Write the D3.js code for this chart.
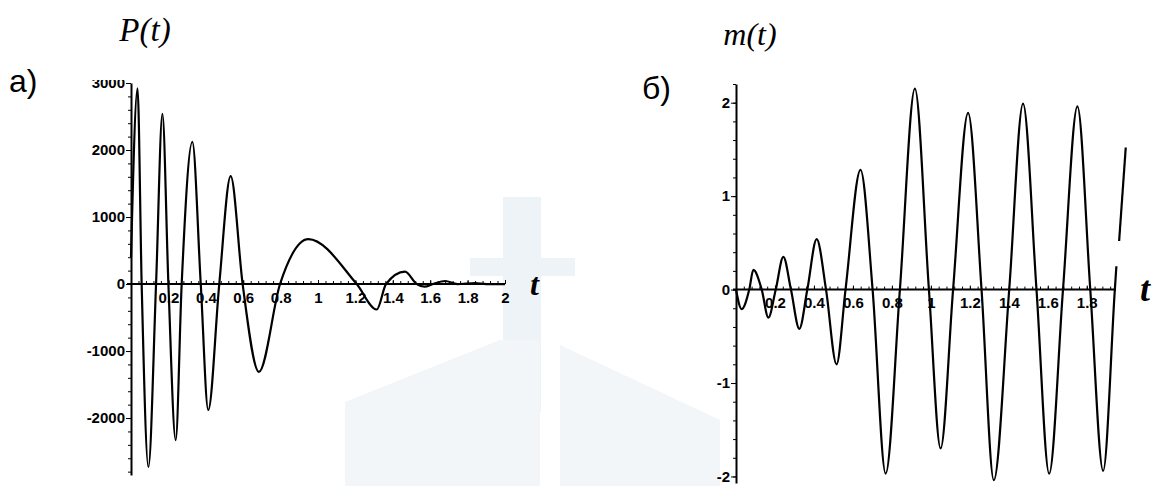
<!DOCTYPE html>
<html>
<head>
<meta charset="utf-8">
<script src="https://cdn.jsdelivr.net/npm/d3@7"></script>
<style>
  body { margin: 0; background: #fff; }
  .axis path, .axis line { stroke: #000; }
  .curve { fill: none; stroke: #000; stroke-width: 2.2; }
</style>
</head>
<body>
<div id="chart"></div>
<script>
// ---- data ----
// a) P(t): extrema and zero crossings
var pT   = [0, 0.035, 0.057, 0.093, 0.134, 0.168, 0.200, 0.239, 0.271, 0.328, 0.373, 0.413, 0.472, 0.533, 0.597, 0.684, 0.797, 0.948, 1.207, 1.314, 1.364, 1.465, 1.528, 1.570, 1.615, 1.680, 1.745, 1.840, 1.900, 2.0];
var pVal = [400, 2920, 0, -2730, 0, 2540, 0, -2330, 0, 2120, 0, -1880, 0, 1610, 0, -1310, 0, 670, 0, -380, 0, 185, 0, -40, 0, 45, 0, 15, 0, 0];
var pYTicks = [-2000, -1000, 0, 1000, 2000, 3000];
var pXTicks = [0.2, 0.4, 0.6, 0.8, 1, 1.2, 1.4, 1.6, 1.8, 2];

// б) m(t): extrema and zero crossings
var mT   = [0, 0.029, 0.068, 0.089, 0.132, 0.166, 0.204, 0.243, 0.282, 0.325, 0.366, 0.414, 0.462, 0.516, 0.562, 0.639, 0.701, 0.768, 0.841, 0.918, 0.990, 1.050, 1.114, 1.191, 1.260, 1.323, 1.402, 1.473, 1.542, 1.607, 1.678, 1.752, 1.818, 1.884, 1.944, 1.952];
var mVal = [0, -0.21, 0, 0.21, 0, -0.30, 0, 0.35, 0, -0.42, 0, 0.54, 0, -0.80, 0, 1.28, 0, -1.97, 0, 2.15, 0, -1.70, 0, 1.89, 0, -2.04, 0, 1.99, 0, -1.97, 0, 1.96, 0, -1.94, 0, 0.25];
// the short broken piece at the right edge
var mTailT   = [1.966, 2.0];
var mTailVal = [0.52, 1.52];
var mYTicks = [-2, -1, 0, 1, 2];
var mXTicks = [0.2, 0.4, 0.6, 0.8, 1, 1.2, 1.4, 1.6, 1.8];

var width = 1156, height = 486;
var plain = function(d) { return String(d); };

var svg = d3.select("#chart").append("svg")
    .attr("width", width)
    .attr("height", height);

// faint watermark behind the plots
var wm = svg.append("g").attr("fill", "#eef3f7");
wm.append("rect").attr("x", 503).attr("y", 197).attr("width", 38).attr("height", 215);
wm.append("rect").attr("x", 470).attr("y", 258).attr("width", 105).attr("height", 18);
wm.append("path").attr("d", "M345,402 L500,340 L540,340 L540,486 L345,486 Z").attr("fill", "#f2f6f9");
wm.append("path").attr("d", "M560,345 L720,420 L720,486 L560,486 Z").attr("fill", "#f2f6f9");

function serif(sel) {
    return sel.style("font-family", "'Liberation Serif', 'Times New Roman', serif")
        .style("font-style", "italic");
}
function labels(g) {
    g.attr("font-size", null).attr("font-family", null);
    g.selectAll(".tick text")
        .attr("fill", "#000")
        .style("font-family", "'Liberation Sans', Arial, sans-serif")
        .style("font-size", "15px")
        .style("font-weight", "bold");
}

// ================= a) P(t) =================
var x1 = d3.scaleLinear().domain([0, 2]).range([131, 505]);
var y1 = d3.scaleLinear().domain([-2850, 3000]).range([475, 83]);

svg.append("defs").append("clipPath").attr("id", "topcut")
    .append("rect").attr("x", 0).attr("y", 80).attr("width", 600).attr("height", 420);

var gY1 = svg.append("g").attr("class", "axis").attr("clip-path", "url(#topcut)");
gY1.append("g")
    .attr("transform", "translate(" + x1(0) + ",0)")
    .call(d3.axisLeft(y1).tickValues(d3.range(-2800, 3001, 200)).tickSize(3).tickSizeOuter(0).tickFormat(""))
    .select(".domain").remove();
gY1.append("g")
    .attr("transform", "translate(" + x1(0) + ",0)")
    .call(d3.axisLeft(y1).tickValues(pYTicks).tickSize(5).tickSizeOuter(0).tickPadding(1).tickFormat(plain))
    .call(labels)
    .call(function(g) { g.select(".domain").attr("stroke-width", 2); });

var gX1 = svg.append("g").attr("class", "axis")
    .attr("transform", "translate(0," + y1(0) + ")");
gX1.append("g")
    .call(d3.axisBottom(x1).tickValues(d3.range(0.04, 2.001, 0.04)).tickSize(-3).tickSizeOuter(0).tickFormat(""))
    .select(".domain").remove();
gX1.append("g")
    .call(d3.axisBottom(x1).tickValues(pXTicks).tickSize(-4).tickSizeOuter(0).tickPadding(8).tickFormat(plain))
    .call(labels)
    .call(function(g) {
        g.select(".domain").attr("d", "M127,0H505").attr("stroke-width", 2);
    });

var pData = pT.map(function(t, i) { return [t, pVal[i]]; });
svg.append("path")
    .datum(pData)
    .attr("class", "curve")
    .attr("d", d3.line()
        .x(function(d) { return x1(d[0]); })
        .y(function(d) { return y1(d[1]); })
        .curve(d3.curveMonotoneX));

serif(svg.append("text").attr("x", 145).attr("y", 41).attr("text-anchor", "middle")
    .style("font-size", "33px").text("P(t)"));
svg.append("text").attr("x", 9).attr("y", 92)
    .style("font-family", "'Liberation Sans', Arial, sans-serif").style("font-size", "32px")
    .text("a)");
serif(svg.append("text").attr("x", 530).attr("y", 295)
    .style("font-size", "32px").style("font-weight", "bold").text("t"));

// ================= б) m(t) =================
var x2 = d3.scaleLinear().domain([0, 1.95]).range([736, 1116]);
var y2 = d3.scaleLinear().domain([-2.07, 2.2]).range([483, 84]);

var gY2 = svg.append("g").attr("class", "axis");
gY2.append("g")
    .attr("transform", "translate(" + x2(0) + ",0)")
    .call(d3.axisLeft(y2).tickValues(d3.range(-2, 2.21, 0.2)).tickSize(3).tickSizeOuter(0).tickFormat(""))
    .select(".domain").remove();
gY2.append("g")
    .attr("transform", "translate(" + x2(0) + ",0)")
    .call(d3.axisLeft(y2).tickValues(mYTicks).tickSize(5).tickSizeOuter(0).tickPadding(1).tickFormat(plain))
    .call(labels)
    .call(function(g) { g.select(".domain").attr("stroke-width", 2); });

var gX2 = svg.append("g").attr("class", "axis")
    .attr("transform", "translate(0," + y2(0) + ")");
gX2.append("g")
    .call(d3.axisBottom(x2).tickValues(d3.range(0.04, 1.95, 0.04)).tickSize(-3).tickSizeOuter(0).tickFormat(""))
    .select(".domain").remove();
gX2.append("g")
    .call(d3.axisBottom(x2).tickValues(mXTicks).tickSize(-4).tickSizeOuter(0).tickPadding(8).tickFormat(plain))
    .call(labels)
    .call(function(g) {
        g.select(".domain").attr("d", "M733,0H1116").attr("stroke-width", 2);
    });

var mLine = d3.line()
    .x(function(d) { return x2(d[0]); })
    .y(function(d) { return y2(d[1]); })
    .curve(d3.curveMonotoneX);

svg.append("path")
    .datum(mT.map(function(t, i) { return [t, mVal[i]]; }))
    .attr("class", "curve")
    .attr("d", mLine);
svg.append("path")
    .datum(mTailT.map(function(t, i) { return [t, mTailVal[i]]; }))
    .attr("class", "curve")
    .attr("d", mLine);

serif(svg.append("text").attr("x", 750).attr("y", 45).attr("text-anchor", "middle")
    .style("font-size", "32px").text("m(t)"));
svg.append("text").attr("x", 642).attr("y", 99)
    .style("font-family", "'Liberation Sans', Arial, sans-serif").style("font-size", "32px")
    .text("б)");
serif(svg.append("text").attr("x", 1140).attr("y", 301)
    .style("font-size", "36px").style("font-weight", "bold").text("t"));
</script>
</body>
</html>
